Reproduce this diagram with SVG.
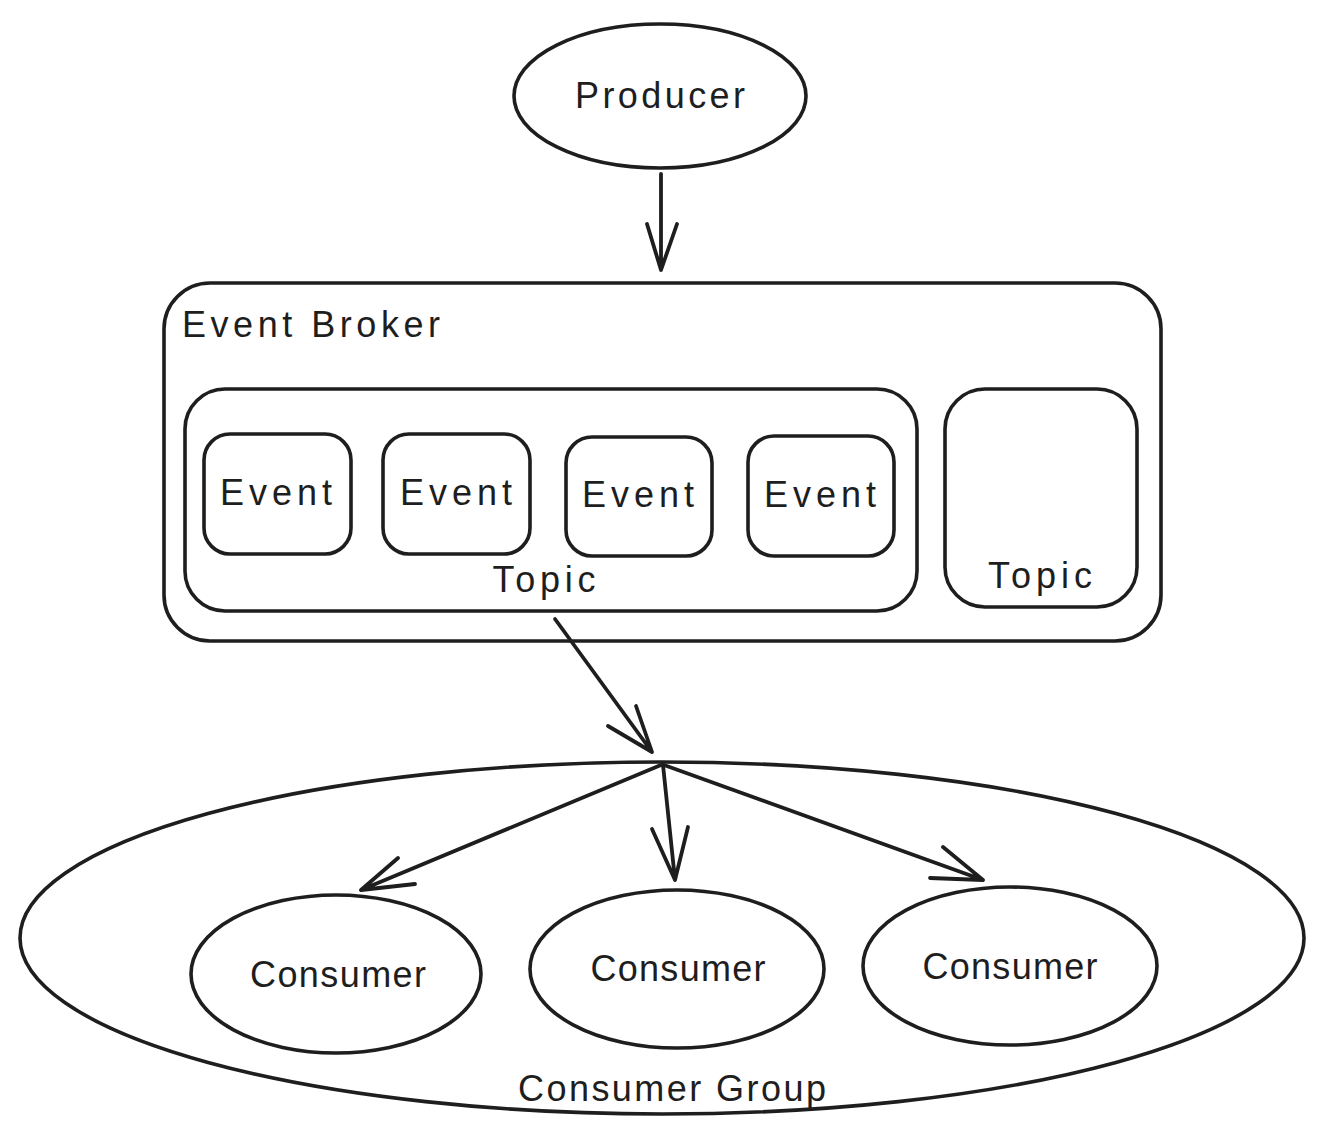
<svg xmlns="http://www.w3.org/2000/svg" width="1325" height="1139" viewBox="0 0 1325 1139">
  <style>
    .shape { fill: none; stroke: #1e1e1e; stroke-width: 3.6; stroke-linecap: round; stroke-linejoin: round; }
    .conn { fill: none; stroke: #1e1e1e; stroke-width: 3.8; stroke-linecap: round; stroke-linejoin: round; }
    .lbl { font-family: "Liberation Sans", Arial, sans-serif; fill: #1e1e1e; font-size: 36px; }
    .mid { text-anchor: middle; }
  </style>
  <rect width="1325" height="1139" fill="#ffffff"/>

  <g id="producer">
    <ellipse class="shape" cx="660" cy="96" rx="146" ry="72"/>
    <text class="lbl mid" x="660" y="108" textLength="170" lengthAdjust="spacing">Producer</text>
  </g>

  <g id="event-broker">
    <rect class="shape" x="164" y="283" width="997" height="358" rx="46"/>
    <text class="lbl" x="182" y="337" textLength="258" lengthAdjust="spacing">Event Broker</text>
  </g>

  <g id="topic-1">
    <rect class="shape" x="185" y="389" width="732" height="222" rx="40"/>
    <text class="lbl mid" x="544" y="592" textLength="103" lengthAdjust="spacing">Topic</text>
  </g>

  <g id="event-1">
    <rect class="shape" x="204" y="434" width="147" height="120" rx="26"/>
    <text class="lbl mid" x="276" y="505" textLength="112" lengthAdjust="spacing">Event</text>
  </g>
  <g id="event-2">
    <rect class="shape" x="383" y="434" width="147" height="120" rx="26"/>
    <text class="lbl mid" x="456" y="505" textLength="112" lengthAdjust="spacing">Event</text>
  </g>
  <g id="event-3">
    <rect class="shape" x="566" y="437" width="146" height="119" rx="26"/>
    <text class="lbl mid" x="638" y="507" textLength="112" lengthAdjust="spacing">Event</text>
  </g>
  <g id="event-4">
    <rect class="shape" x="748" y="436" width="146" height="120" rx="26"/>
    <text class="lbl mid" x="820" y="507" textLength="112" lengthAdjust="spacing">Event</text>
  </g>

  <g id="topic-2">
    <rect class="shape" x="945" y="389" width="192" height="218" rx="40"/>
    <text class="lbl mid" x="1040" y="588" textLength="104" lengthAdjust="spacing">Topic</text>
  </g>

  <g id="consumer-group">
    <ellipse class="shape" cx="662" cy="938" rx="642" ry="176"/>
    <text class="lbl mid" x="672" y="1101" textLength="308" lengthAdjust="spacing">Consumer Group</text>
  </g>

  <g id="consumer-1">
    <ellipse class="shape" cx="336" cy="974" rx="145" ry="79"/>
    <text class="lbl mid" x="338" y="987" textLength="176" lengthAdjust="spacing">Consumer</text>
  </g>
  <g id="consumer-2">
    <ellipse class="shape" cx="677" cy="969" rx="147" ry="79"/>
    <text class="lbl mid" x="678" y="981" textLength="175" lengthAdjust="spacing">Consumer</text>
  </g>
  <g id="consumer-3">
    <ellipse class="shape" cx="1010" cy="966" rx="147" ry="79"/>
    <text class="lbl mid" x="1010" y="979" textLength="175" lengthAdjust="spacing">Consumer</text>
  </g>

  <g id="connectors">
    <path class="conn" d="M661 174 L661 270 M647 224 L661 270 L677 224"/>
    <path class="conn" d="M555 619 L652 752 M608 726 L652 752 L636 706"/>
    <path class="conn" d="M661 765 L361 890 M398 858 L361 890 L415 884"/>
    <path class="conn" d="M663 765 L675 880 M652 829 L675 880 L688 827"/>
    <path class="conn" d="M664 765 L983 880 M943 847 L983 880 L930 878"/>
  </g>
</svg>
